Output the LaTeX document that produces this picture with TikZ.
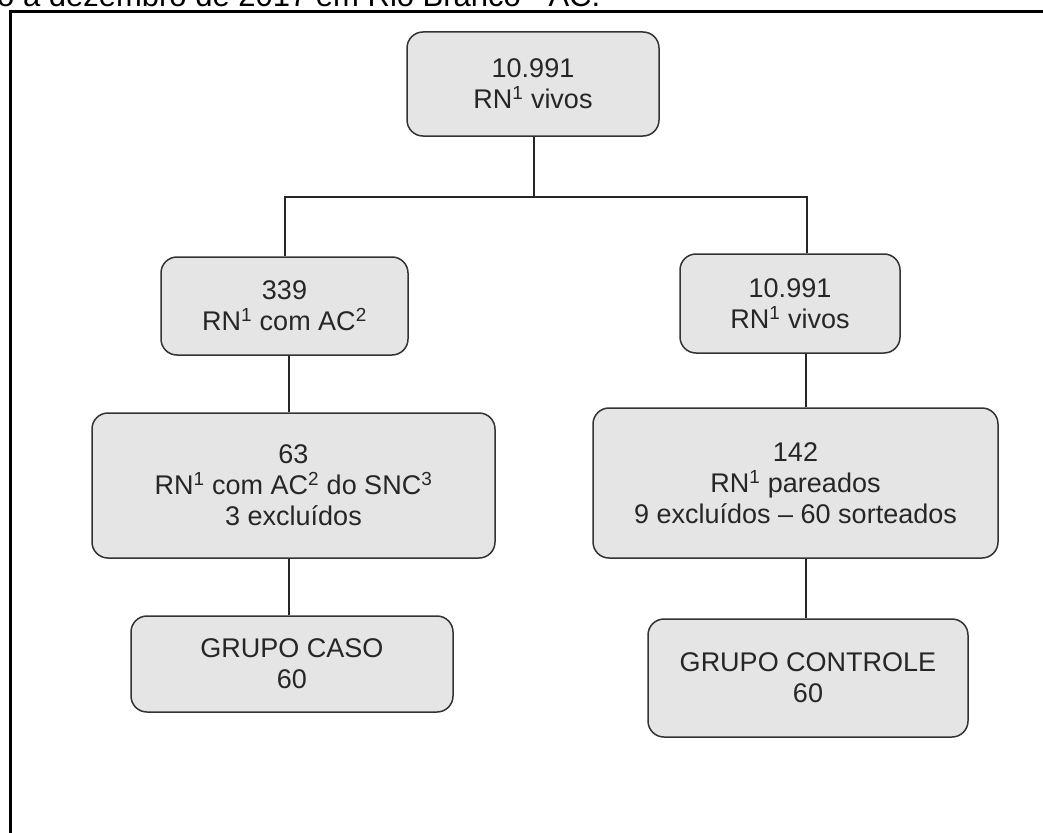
\documentclass[tikz,border=0pt]{standalone}
\usepackage{fontspec}
\setmainfont{Liberation Sans}
\begin{document}
\begin{tikzpicture}[x=1pt,y=-1pt,
  box/.style={draw=black!80, line width=1.5pt, fill=black!10, rounded corners=16pt,
    align=center, text=black!85, inner sep=0pt,
    font=\fontsize{27}{31}\selectfont},
  conn/.style={draw=black!85, line width=1.5pt}]
\useasboundingbox (0,0) rectangle (1043,832);
% caption cut at top
\node[anchor=base west, inner sep=0pt, font=\fontsize{31}{36}\selectfont] (cap) at (-3,7) {o a dezembro de 2017 em Rio Branco - AC.};
% frame
\draw[line width=3pt] (1060,11.5) -- (10.5,11.5) -- (10.5,860);
% boxes
\node[box, minimum width=252pt, minimum height=104pt] (top) at (533,84) {10.991\\RN\textsuperscript{1} vivos};
\node[box, minimum width=247pt, minimum height=98pt] (L1) at (284.5,306) {339\\RN\textsuperscript{1} com AC\textsuperscript{2}};
\node[box, minimum width=220pt, minimum height=99pt] (R1) at (790,303.5) {10.991\\RN\textsuperscript{1} vivos};
\node[box, minimum width=403pt, minimum height=145pt] (L2) at (293.5,485.5) {63\\RN\textsuperscript{1} com AC\textsuperscript{2} do SNC\textsuperscript{3}\\3 excluídos};
\node[box, minimum width=405pt, minimum height=150pt] (R2) at (795.5,483) {142\\RN\textsuperscript{1} pareados\\9 excluídos -- 60 sorteados};
\node[box, minimum width=322pt, minimum height=96pt] (L3) at (292,664) {GRUPO CASO\\60};
\node[box, minimum width=320pt, minimum height=118pt] (R3) at (808,678) {GRUPO CONTROLE\\60};
% connector guides
\coordinate (j) at (534,197);
\coordinate (xl1) at (285,0);
\coordinate (xr1) at (807,0);
\coordinate (xl2) at (289,0);
\coordinate (xr2) at (806,0);
% connectors
\draw[conn] (top.south -| j) -- (j);
\draw[conn] (L1.north -| xl1) -- (xl1 |- j) -- (xr1 |- j) -- (R1.north -| xr1);
\draw[conn] (L1.south -| xl2) -- (L2.north -| xl2);
\draw[conn] (L2.south -| xl2) -- (L3.north -| xl2);
\draw[conn] (R1.south -| xr2) -- (R2.north -| xr2);
\draw[conn] (R2.south -| xr2) -- (R3.north -| xr2);
\end{tikzpicture}
\end{document}
